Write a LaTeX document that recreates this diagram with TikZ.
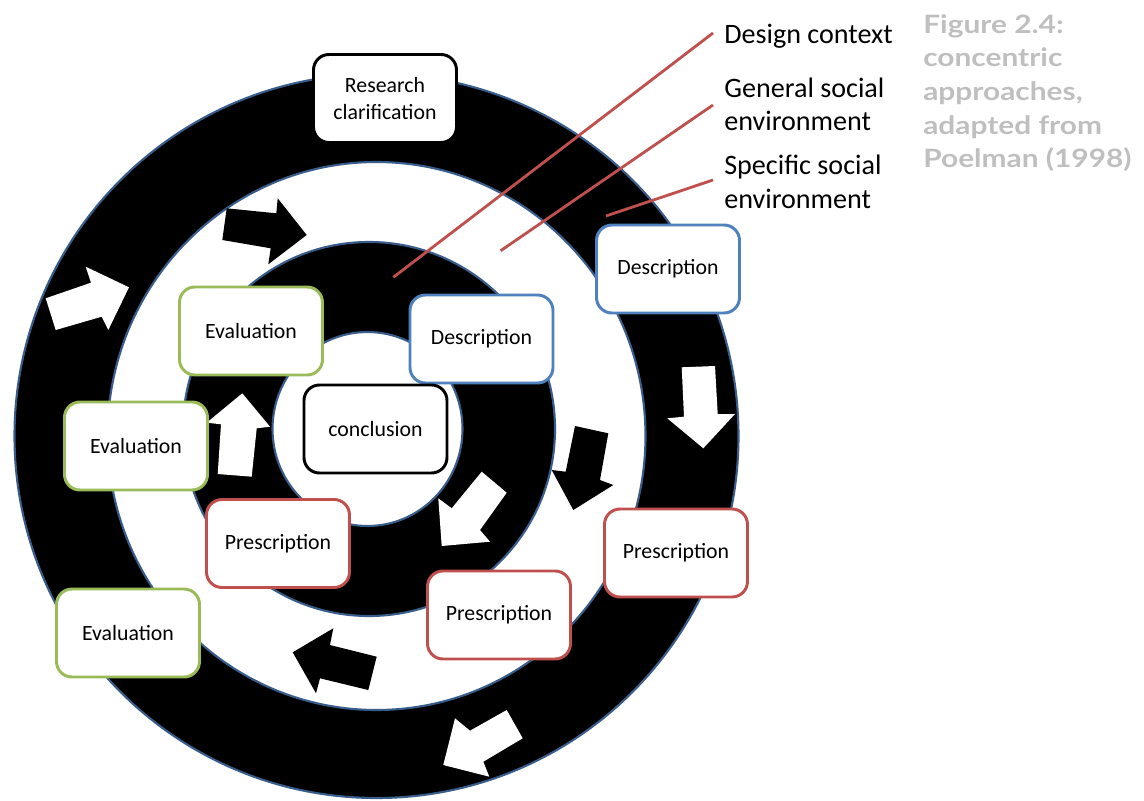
\documentclass[tikz,border=0pt]{standalone}
\usepackage{fontspec}
\setmainfont{Carlito}
\newfontfamily\capfont[FakeStretch=1.18]{Lato}
\definecolor{ringblue}{RGB}{56,93,138}
\definecolor{boxblue}{RGB}{79,129,189}
\definecolor{boxgreen}{RGB}{155,187,89}
\definecolor{boxred}{RGB}{192,80,77}
\definecolor{leadred}{RGB}{192,80,77}
\definecolor{capgray}{RGB}{191,191,191}
\def\pxu{0.025cm}
\tikzset{
  ringline/.style={draw=ringblue, line width=1.5pt},
  stagebox/.style={draw, fill=white, line width=2.1pt, rounded corners=11pt,
    minimum width=143*\pxu, minimum height=88*\pxu, inner sep=2pt,
    align=center, font=\fontsize{15.5}{19}\selectfont},
  evalbox/.style={stagebox, draw=boxgreen},
  descbox/.style={stagebox, draw=boxblue},
  presbox/.style={stagebox, draw=boxred},
  plainbox/.style={stagebox, draw=black},
  leader/.style={draw=leadred, line width=2pt},
  ringlabel/.style={anchor=base west, inner sep=0pt, align=left,
    font=\fontsize{20}{23.6}\selectfont},
  blackarrow/.style={fill=black},
  whitearrow/.style={fill=white},
}
\begin{document}
\begin{tikzpicture}[x=0.025cm, y=-0.025cm]
\useasboundingbox (0,0) rectangle (1144,801);

% concentric rings
\filldraw[fill=black, ringline] (376.5,436) ellipse [x radius=362*\pxu, y radius=362*\pxu];
\filldraw[fill=white, ringline] (376.5,436) ellipse [x radius=269*\pxu, y radius=274*\pxu];
\filldraw[fill=black, ringline] (369,429) ellipse [x radius=186*\pxu, y radius=187*\pxu];
\filldraw[fill=white, ringline] (367.5,429) ellipse [x radius=95*\pxu, y radius=97*\pxu];

% block arrows circulating through the rings
\fill[blackarrow] (226.7,208.3) -- (276.3,213.3) -- (277.7,198.3) -- (306.7,235) -- (268.3,264.3) -- (270.7,248.3) -- (222.3,240) -- cycle;
\fill[whitearrow] (45.7,298.3) -- (91,282.7) -- (85.7,266.7) -- (129,287.3) -- (108.3,330) -- (101.7,316.7) -- (55.7,330) -- cycle;
\fill[whitearrow] (681.7,367.3) -- (715,366) -- (717.7,414) -- (735,414) -- (703.3,448.3) -- (667.3,418.3) -- (684,416.7) -- cycle;
\fill[blackarrow] (575,426) -- (608.3,433.3) -- (600,480) -- (613.3,485) -- (573.3,510) -- (551.7,470) -- (565.7,471.7) -- cycle;
\fill[whitearrow] (481.7,471.7) -- (506.7,492.7) -- (480,530) -- (490,541.7) -- (441.7,546) -- (438.3,498.3) -- (451.7,508.3) -- cycle;
\fill[blackarrow] (376.7,656.7) -- (368.3,690) -- (320,678.3) -- (316,693.3) -- (292.7,652.3) -- (333.3,628.3) -- (330,645) -- cycle;
\fill[whitearrow] (506.7,710) -- (522.7,738.3) -- (483.3,761.7) -- (489.3,776.7) -- (443.3,765) -- (455,718.3) -- (470,730.7) -- cycle;
\fill[whitearrow] (242.3,393.3) -- (270,426.7) -- (256.7,428.3) -- (251.7,476.7) -- (217.7,474) -- (221,424.3) -- (206.7,422.7) -- cycle;

% stage boxes
\node[plainbox] (research) at (385,98.5) {Research\\clarification};
\node[descbox] (descout) at (668,269) {Description};
\node[descbox] (descin) at (481.5,339) {Description};
\node[evalbox] (evalin) at (251,331) {Evaluation};
\node[evalbox] (evalmid) at (136,446) {Evaluation};
\node[evalbox] (evalout) at (128,633) {Evaluation};
\node[plainbox] (concl) at (375.5,429) {conclusion};
\node[presbox] (presin) at (278,543.5) {Prescription};
\node[presbox] (presmid) at (499,615) {Prescription};
\node[presbox] (presout) at (676,553) {Prescription};

% ring labels (base anchor sits on the last line) with leader lines
\node[ringlabel] (lbldesign) at (724,43.3) {Design context};
\node[ringlabel] (lblgeneral) at (724,130.5) {General social\\environment};
\node[ringlabel] (lblspecific) at (724,208) {Specific social\\environment};
\coordinate (pdesign) at (393.3,277.3);
\coordinate (pgeneral) at (500.7,250.7);
\coordinate (pspecific) at (606,216);
\coordinate (edesign) at (713,33);
\coordinate (egeneral) at (713,105);
\coordinate (especific) at (713,180);
\draw[leader] (pdesign) -- (edesign);
\draw[leader] (pgeneral) -- (egeneral);
\draw[leader] (pspecific) -- (especific);

% caption
\node[anchor=base west, inner sep=0pt, align=left, text=capgray,
  font=\capfont\bfseries\fontsize{18}{24}\selectfont] (caption) at (923,168)
  {Figure 2.4:\\concentric\\approaches,\\adapted from\\Poelman (1998)};
\end{tikzpicture}
\end{document}
